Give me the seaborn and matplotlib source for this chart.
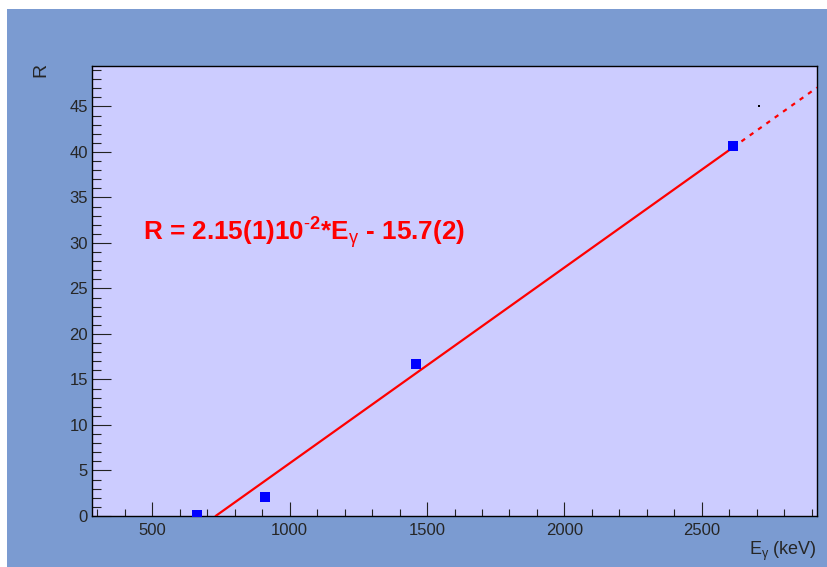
import numpy as np
import pandas as pd
import matplotlib
matplotlib.use("Agg")
import matplotlib.pyplot as plt
from matplotlib.patches import Rectangle
from matplotlib.ticker import MultipleLocator
import seaborn as sns

# measured points
energy_kev = [661.7, 911.0, 1460.8, 2614.5]
ratio_r = [0.15, 2.05, 16.7, 40.7]

# linear fit R = slope*E + offset
fit_slope = 2.15e-2
fit_offset = -15.7

# little stray mark near the top right
stray_e = [2708]
stray_r = [45.0]

x_range = (280, 2920)
y_range = (0, 49.45)

sns.set_theme(style="ticks")
plt.rcParams['font.family'] = ['Liberation Sans', 'DejaVu Sans']
plt.rcParams['mathtext.fontset'] = 'custom'
plt.rcParams['mathtext.rm'] = 'Liberation Sans'
plt.rcParams['mathtext.it'] = 'Liberation Sans'
plt.rcParams['mathtext.bf'] = 'Liberation Sans:bold'

canvas_blue = "#7b9bd1"
pad_lilac = "#ccccff"

fig = plt.figure(figsize=(8.28, 5.67), dpi=100)
fig.patch.set_facecolor("white")
fig.patches.append(Rectangle((7 / 828, 0), 1, 1 - 9 / 567, transform=fig.transFigure,
                             facecolor=canvas_blue, edgecolor="none", zorder=-10))

ax = fig.add_axes([92 / 828, 51 / 567, 725 / 828, 450 / 567])
ax.set_facecolor(pad_lilac)

pts = pd.DataFrame({"E": energy_kev, "R": ratio_r})

# fit line: solid from zero crossing to last point, dotted beyond
e_zero = -fit_offset / fit_slope
e_solid = np.linspace(e_zero, max(energy_kev), 50)
e_dot = np.linspace(max(energy_kev), x_range[1], 20)
sns.lineplot(x=e_solid, y=fit_slope * e_solid + fit_offset, ax=ax, color="#ff0000", lw=1.6, zorder=3)
sns.lineplot(x=e_dot, y=fit_slope * e_dot + fit_offset, ax=ax, color="#ff0000", lw=1.6,
             linestyle=(0, (2, 2.6)), zorder=3)

sns.scatterplot(data=pts, x="E", y="R", ax=ax, marker="s", s=48, color="#0000ff",
                edgecolor="#0000ff", linewidth=0, zorder=4)
ax.scatter(stray_e, stray_r, s=1.5, color="black", marker="s", linewidths=0, zorder=4)

ax.set_xlim(*x_range)
ax.set_ylim(*y_range)
ax.set_xlabel("")
ax.set_ylabel("")

ax.xaxis.set_major_locator(MultipleLocator(500))
ax.xaxis.set_minor_locator(MultipleLocator(100))
ax.yaxis.set_major_locator(MultipleLocator(5))
ax.yaxis.set_minor_locator(MultipleLocator(1))
ax.tick_params(axis="x", which="major", direction="in", length=10, width=0.8, pad=5,
               labelsize=12, color="#222222")
ax.tick_params(axis="x", which="minor", direction="in", length=5, width=0.8, color="#222222")
ax.tick_params(axis="y", which="major", direction="in", length=13.5, width=0.8, pad=3,
               labelsize=12, color="#222222")
ax.tick_params(axis="y", which="minor", direction="in", length=6.5, width=0.8, color="#222222")
for sp in ax.spines.values():
    sp.set_visible(True)
    sp.set_color("black")
    sp.set_linewidth(1.0)

fig.text(817 / 828, (567 - 551) / 567, r"E$_{\gamma}$ (keV)", ha="right", va="center", fontsize=13)
fig.text(41 / 828, (567 - 63) / 567, "R", rotation=90, ha="center", va="top", fontsize=14)

fig.text(143 / 828, (567 - 240) / 567,
         r"R = 2.15(1)10$^{\mathbf{\text{-}2}}$*E$_{\gamma}$ - 15.7(2)",
         color="#ff0000", fontweight="bold", fontsize=18.8, ha="left", va="baseline")

fig.savefig("out.png", dpi=100)
